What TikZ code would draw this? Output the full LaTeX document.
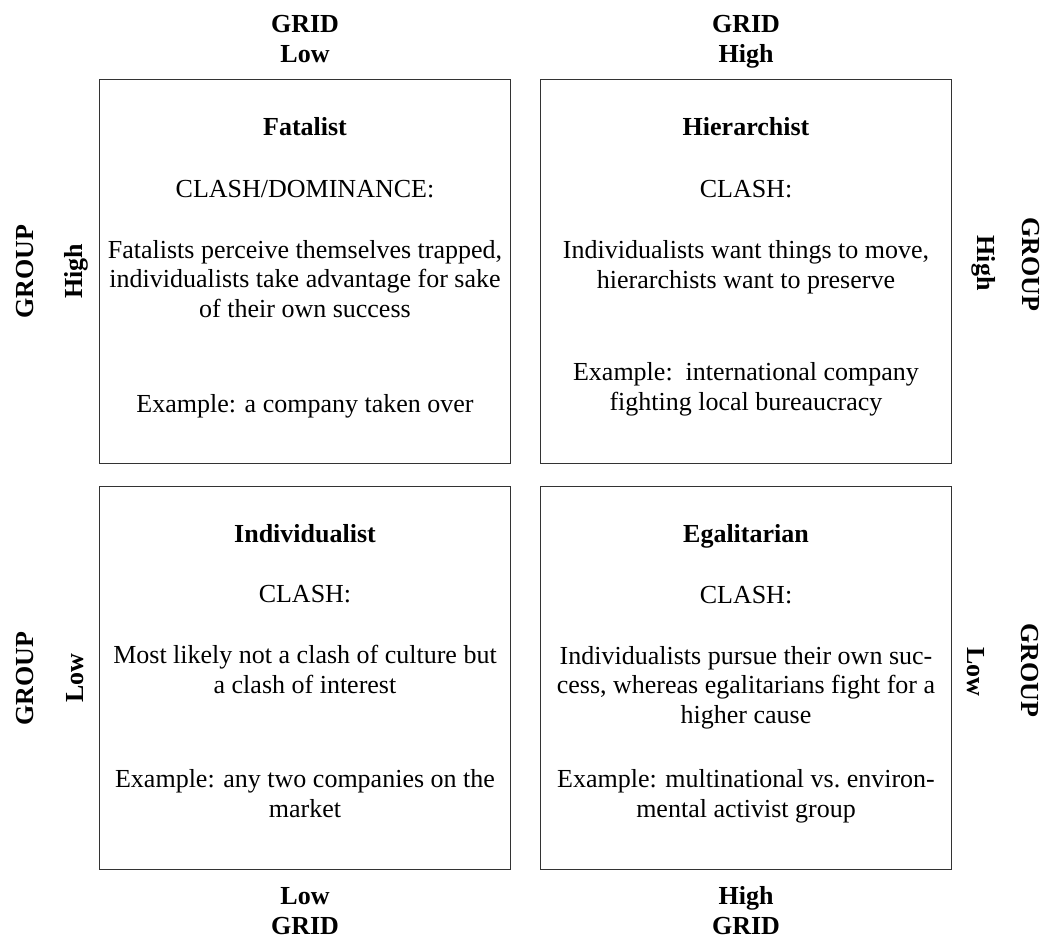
\documentclass[tikz,border=0pt]{standalone}
\usepackage{fontspec}
\setmainfont{Liberation Serif}
\usetikzlibrary{calc}

\begin{document}
\begin{tikzpicture}[x=0.75pt, y=-0.75pt,
      cell/.style={draw=black!80, line width=1pt, minimum width=308.6pt, minimum height=287.6pt, inner sep=0pt},
      txt/.style={anchor=base, align=center, inner sep=0pt, font=\fontsize{19.5}{22}\selectfont},
      hd/.style={txt, font=\fontsize{19.5}{22}\selectfont\bfseries}]
      \useasboundingbox (0,0) rectangle (1047,940);
      % the four quadrants
      \node[cell] (fat) at (305,271.5) {};
      \node[cell] (hier) at (746,271.5) {};
      \node[cell] (indiv) at (305,678) {};
      \node[cell] (egal) at (746,678) {};
      % grid labels, top and bottom (base = last line)
      \node[hd] (gridlow) at (305,62) {GRID\\Low};
      \node[hd] (gridhigh) at (746,62) {GRID\\High};
      \node[hd] (lowgrid) at (305,934) {Low\\GRID};
      \node[hd] (highgrid) at (746,934) {High\\GRID};
      % group labels, left and right
      \node[hd, rotate=90] (grouphl) at (33,272) {GROUP};
      \node[hd, rotate=90] (highl) at (82,271) {High};
      \node[hd, rotate=90] (groupll) at (33,679) {GROUP};
      \node[hd, rotate=90] (lowl) at (83,678) {Low};
      \node[hd, rotate=-90] (highr) at (977,263) {High};
      \node[hd, rotate=-90] (grouphr) at (1022,264) {GROUP};
      \node[hd, rotate=-90] (lowr) at (967,672) {Low};
      \node[hd, rotate=-90] (grouplr) at (1021,670) {GROUP};
      % Fatalist
      \node[hd] (fattitle) at (305,135) {Fatalist};
      \node[txt] (fatclash) at (305,197) {CLASH/DOMINANCE:};
      \node[txt] (fatbody) at (305,317) {Fatalists perceive themselves trapped,\\individualists take advantage for sake\\of their own success};
      \node[txt] (fatex) at (305,412) {Example: a company taken over};
      % Hierarchist
      \node[hd] (hiertitle) at (746,135) {Hierarchist};
      \node[txt] (hierclash) at (746,197) {CLASH:};
      \node[txt] (hierbody) at (746,288) {Individualists want things to move,\\hierarchists want to preserve};
      \node[txt] (hierex) at (746,410) {Example:\ \ international company\\fighting local bureaucracy};
      % Individualist
      \node[hd] (indivtitle) at (305,542) {Individualist};
      \node[txt] (indivclash) at (305,602) {CLASH:};
      \node[txt] (indivbody) at (305,693) {Most likely not a clash of culture but\\a clash of interest};
      \node[txt] (indivex) at (305,817) {Example: any two companies on the\\market};
      % Egalitarian
      \node[hd] (egaltitle) at (746,542) {Egalitarian};
      \node[txt] (egalclash) at (746,603) {CLASH:};
      \node[txt] (egalbody) at (746,723) {Individualists pursue their own suc-\\cess, whereas egalitarians fight for a\\higher cause};
      \node[txt] (egalex) at (746,817) {Example: multinational vs.\ environ-\\mental activist group};
    \end{tikzpicture}
\end{document}
